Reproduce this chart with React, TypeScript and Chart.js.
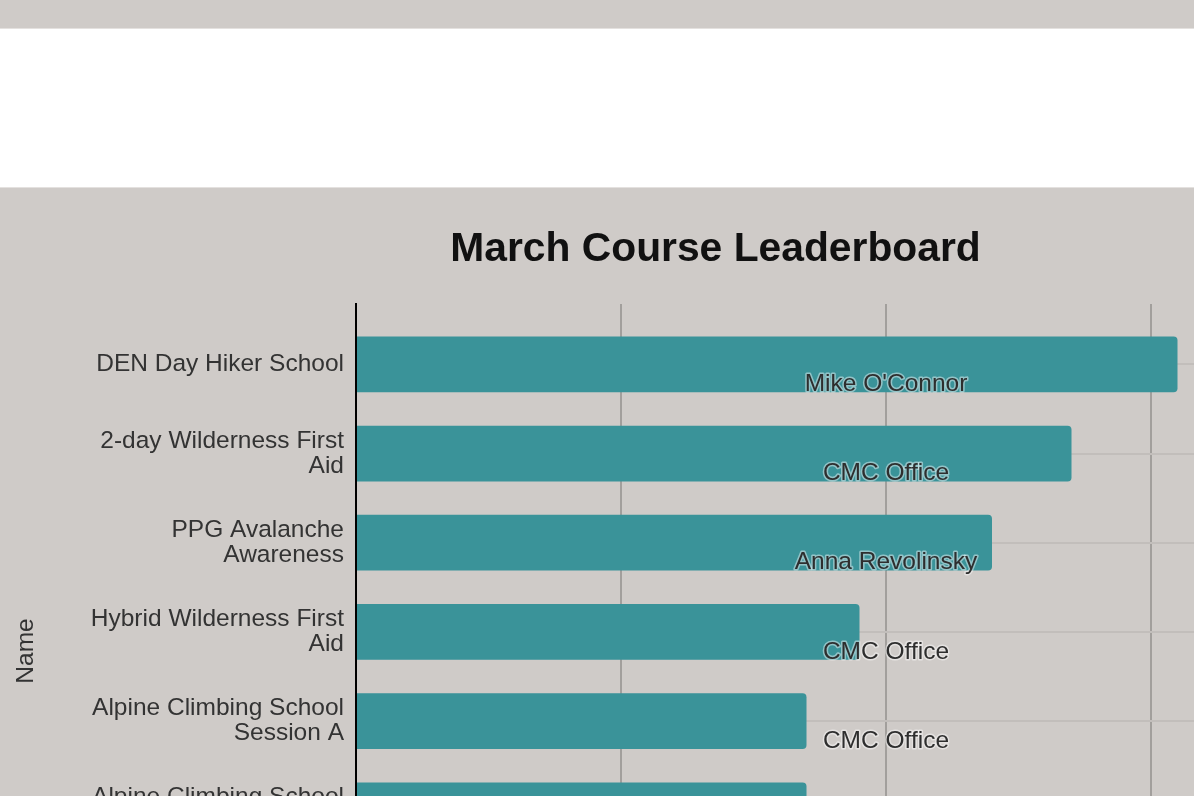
import React, { useEffect, useRef } from "react";
import { Chart, registerables } from "chart.js";

Chart.register(...registerables);

// ---- data ----
const courseNames: string[][] = [
  ["DEN Day Hiker School"],
  ["2-day Wilderness First", "Aid"],
  ["PPG Avalanche", "Awareness"],
  ["Hybrid Wilderness First", "Aid"],
  ["Alpine Climbing School", "Session A"],
  ["Alpine Climbing School", "Session B"],
];
const enrollments: number[] = [31, 27, 24, 19, 17, 17];
const leaders: string[] = [
  "Mike O'Connor",
  "CMC Office",
  "Anna Revolinsky",
  "CMC Office",
  "CMC Office",
  "CMC Office",
];
const xTickValues: number[] = [0, 10, 20, 30, 40];
const chartTitle = "March Course Leaderboard";
const yAxisTitle = "Name";

const FONT = "'Liberation Sans', Arial, Helvetica, sans-serif";
const BG = "#cfcbc8";
const BAR = "#3a9399";

const leaderLabels = {
  id: "leaderLabels",
  afterDatasetsDraw(chart: any) {
    const { ctx, chartArea, scales } = chart;
    const x = (chartArea.left + chartArea.right) / 2;
    ctx.save();
    ctx.font = `24.5px ${FONT}`;
    ctx.textAlign = "center";
    ctx.textBaseline = "middle";
    ctx.lineJoin = "round";
    leaders.forEach((name, i) => {
      const y = scales.y.getPixelForValue(i) + 20;
      ctx.strokeStyle = "rgba(255,255,255,0.45)";
      ctx.lineWidth = 3;
      ctx.strokeText(name, x, y);
      ctx.fillStyle = "#2e2e2e";
      ctx.fillText(name, x, y);
    });
    ctx.restore();
  },
};

function LeaderboardChart() {
  const ref = useRef<HTMLCanvasElement | null>(null);
  useEffect(() => {
    if (!ref.current) return;
    const chart = new Chart(ref.current, {
      type: "bar",
      data: {
        datasets: [
          {
            label: "Enrollment",
            data: enrollments.map((v, i) => ({ x: v, y: i })),
            backgroundColor: BAR,
            borderRadius: 4,
            borderSkipped: "start",
            categoryPercentage: 1,
            barPercentage: 0.625,
          },
        ],
      },
      options: {
        indexAxis: "y",
        responsive: false,
        animation: false,
        devicePixelRatio: 1,
        layout: { padding: 0 },
        plugins: {
          legend: { display: false },
          tooltip: { enabled: false },
          title: {
            display: true,
            text: chartTitle,
            color: "#111",
            font: { family: FONT, size: 40.8, weight: "bold", lineHeight: 1.2 },
            padding: { top: 37, bottom: 30 },
          },
        },
        scales: {
          x: {
            type: "linear",
            position: "bottom",
            min: 0,
            max: 40,
            offset: false,
            afterBuildTicks: (scale: any) => {
              scale.ticks = xTickValues.map((v) => ({ value: v }));
            },
            afterFit: (scale: any) => {
              scale.height = 40;
              scale.paddingRight = 15;
            },
            grid: {
              offset: false,
              color: (c: any) => (c.tick && c.tick.value === 0 ? "rgba(0,0,0,0)" : "#a29f9c"),
              lineWidth: 2,
              drawTicks: false,
            },
            border: { display: false },
            ticks: {
              color: "#333",
              font: { family: FONT, size: 24.5 },
              padding: 6,
            },
          },
          y: {
            type: "linear",
            reverse: true,
            offset: false,
            min: -0.6775,
            max: 7.105,
            afterFit: (scale: any) => {
              scale.width = 356;
            },
            ticks: {
              stepSize: 1,
              includeBounds: false,
              autoSkip: false,
              color: "#333",
              padding: 12,
              font: { family: FONT, size: 24.5, lineHeight: 1.03 },
              callback: (v: any) => {
                const n = Number(v);
                return Number.isInteger(n) && courseNames[n] ? courseNames[n] : "";
              },
            },
            grid: {
              offset: false,
              color: "#c2bebb",
              lineWidth: 2,
              drawTicks: false,
            },
            border: { display: true, color: "#000", width: 2 },
            title: {
              display: true,
              text: yAxisTitle,
              color: "#333",
              font: { family: FONT, size: 24.5, lineHeight: 1.2 },
              padding: { top: 12, bottom: 0 },
            },
          },
        },
      },
      plugins: [leaderLabels],
    } as any);
    return () => chart.destroy();
  }, []);
  return (
    <canvas
      ref={ref}
      width={1431}
      height={850}
      style={{ position: "absolute", left: 0, top: 188, width: 1431, height: 850, display: "block" }}
    />
  );
}

export default function App() {
  return (
    <div
      style={{
        position: "fixed",
        left: 0,
        top: 0,
        width: "100vw",
        height: "100vh",
        overflow: "hidden",
        background: BG,
        fontFamily: FONT,
      }}
    >
      <div style={{ position: "absolute", left: 0, top: 0, width: "100%", height: 28, background: BG }} />
      <div style={{ position: "absolute", left: 0, top: 28, width: "100%", height: 1, background: "#e4e1df" }} />
      <div style={{ position: "absolute", left: 0, top: 29, width: "100%", height: 158, background: "#ffffff" }} />
      <div style={{ position: "absolute", left: 0, top: 187, width: "100%", height: 1, background: "#e4e1df" }} />
      <LeaderboardChart />
    </div>
  );
}
